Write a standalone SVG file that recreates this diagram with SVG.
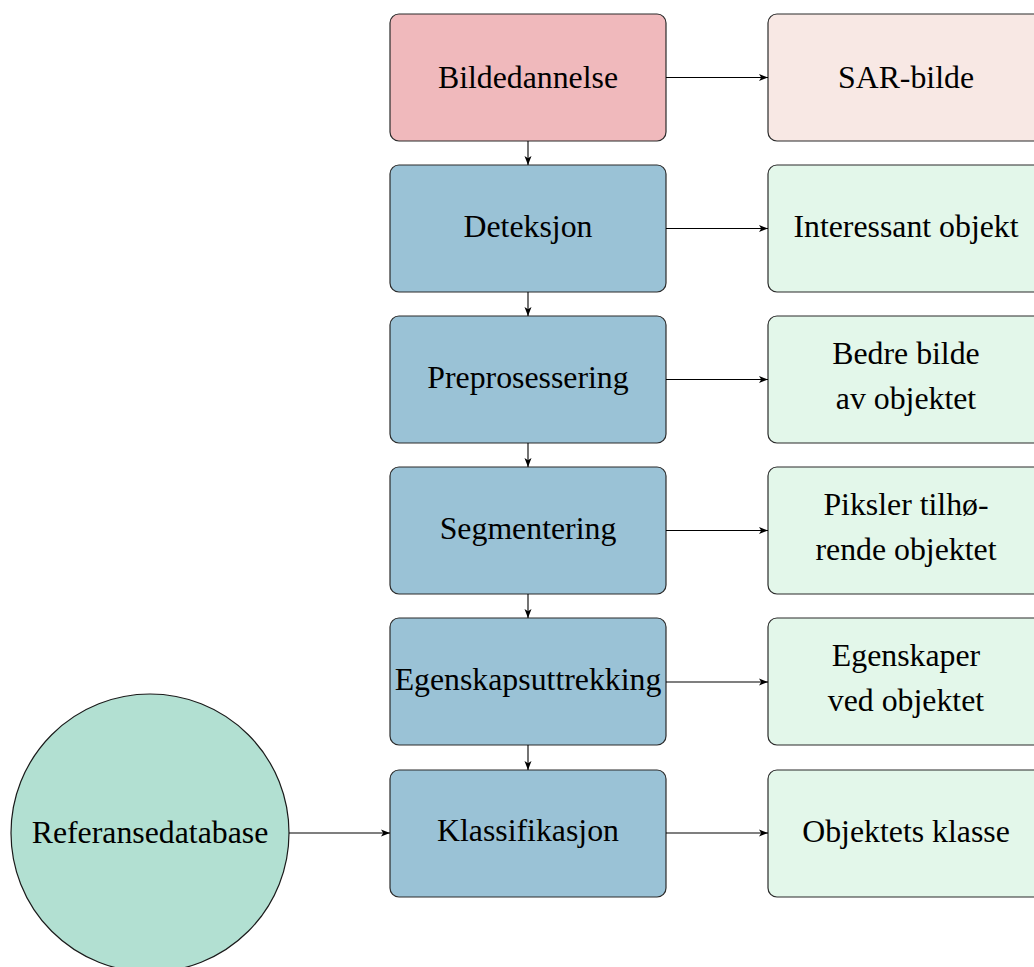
<svg xmlns="http://www.w3.org/2000/svg" width="1034" height="967" viewBox="0 0 1034 967">
<style>
.box{stroke:#2b2b2b;stroke-width:1.2}
.red{fill:#f0b9bc}
.pink{fill:#f8e8e4}
.blue{fill:#9ac2d6}
.green{fill:#e3f7ea}
.circ{fill:#b2e0d2;stroke:#1a1a1a;stroke-width:1.2}
text{font-family:"Liberation Serif","Times New Roman",serif;font-size:31.8px;fill:#000;text-anchor:middle}
.conn line{stroke:#000;stroke-width:1.1;marker-end:url(#ah)}
</style>
<defs>
<marker id="ah" markerUnits="userSpaceOnUse" markerWidth="10" markerHeight="8" refX="9" refY="4" orient="auto">
<path d="M0,0.5 L9,4 L0,7.5 L2.2,4 Z" fill="#000"/>
</marker>
</defs>
<g id="n-bildedannelse"><rect class="box red" x="390" y="14" width="276" height="127" rx="9"/><text x="528" y="88">Bildedannelse</text></g>
<g id="n-deteksjon"><rect class="box blue" x="390" y="165" width="276" height="127" rx="9"/><text x="528" y="237">Deteksjon</text></g>
<g id="n-preprosessering"><rect class="box blue" x="390" y="316" width="276" height="127" rx="9"/><text x="528" y="388">Preprosessering</text></g>
<g id="n-segmentering"><rect class="box blue" x="390" y="467" width="276" height="127" rx="9"/><text x="528" y="539">Segmentering</text></g>
<g id="n-egenskapsuttrekking"><rect class="box blue" x="390" y="618" width="276" height="127" rx="9"/><text x="528" y="690">Egenskapsuttrekking</text></g>
<g id="n-klassifikasjon"><rect class="box blue" x="390" y="770" width="276" height="127" rx="9"/><text x="528" y="841">Klassifikasjon</text></g>
<g id="n-sarbilde"><rect class="box pink" x="768" y="14" width="276" height="127" rx="9"/><text x="906" y="88">SAR-bilde</text></g>
<g id="n-interessant"><rect class="box green" x="768" y="165" width="276" height="127" rx="9"/><text x="906" y="237">Interessant objekt</text></g>
<g id="n-bedre"><rect class="box green" x="768" y="316" width="276" height="127" rx="9"/><text x="906" y="364">Bedre bilde</text><text x="906" y="409">av objektet</text></g>
<g id="n-piksler"><rect class="box green" x="768" y="467" width="276" height="127" rx="9"/><text x="906" y="515">Piksler tilhø-</text><text x="906" y="560">rende objektet</text></g>
<g id="n-egenskaper"><rect class="box green" x="768" y="618" width="276" height="127" rx="9"/><text x="906" y="666">Egenskaper</text><text x="906" y="711">ved objektet</text></g>
<g id="n-klasse"><rect class="box green" x="768" y="770" width="276" height="127" rx="9"/><text x="906" y="842">Objektets klasse</text></g>
<g id="n-referansedatabase"><circle class="circ" cx="150" cy="833" r="139"/><text x="150" y="843">Referansedatabase</text></g>
<g id="connectors" class="conn">
<line x1="666" y1="77.5" x2="768" y2="77.5"/>
<line x1="666" y1="228.5" x2="768" y2="228.5"/>
<line x1="666" y1="379.5" x2="768" y2="379.5"/>
<line x1="666" y1="530.5" x2="768" y2="530.5"/>
<line x1="666" y1="682" x2="768" y2="682"/>
<line x1="666" y1="833" x2="768" y2="833"/>
<line x1="528" y1="141" x2="528" y2="165"/>
<line x1="528" y1="292" x2="528" y2="316"/>
<line x1="528" y1="443" x2="528" y2="467"/>
<line x1="528" y1="594" x2="528" y2="618"/>
<line x1="528" y1="745" x2="528" y2="770"/>
<line x1="289" y1="833" x2="390" y2="833"/>
</g>
</svg>
